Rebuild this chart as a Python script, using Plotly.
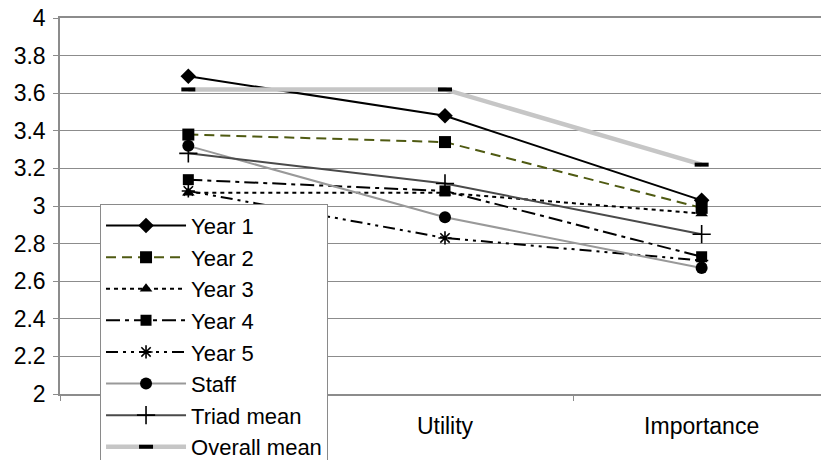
import plotly.graph_objects as go

categories = ["Interest", "Utility", "Importance"]
series_names = ["Year 1", "Year 2", "Year 3", "Year 4", "Year 5", "Staff", "Triad mean", "Overall mean"]
year1 = [3.69, 3.48, 3.03]
year2 = [3.38, 3.34, 2.99]
year3 = [3.07, 3.07, 2.96]
year4 = [3.14, 3.08, 2.73]
year5 = [3.08, 2.83, 2.71]
staff = [3.32, 2.94, 2.67]
triad = [3.28, 3.12, 2.85]
overall = [3.62, 3.62, 3.22]
values = [year1, year2, year3, year4, year5, staff, triad, overall]

styles = [
    dict(line=dict(color="black", width=2, dash="solid"),
         marker=dict(symbol="diamond", size=12, color="black")),
    dict(line=dict(color="#4f5a12", width=2, dash="10px,6px"),
         marker=dict(symbol="square", size=12, color="black")),
    dict(line=dict(color="black", width=2, dash="4px,4px"),
         marker=dict(symbol="triangle-up", size=11, color="black")),
    dict(line=dict(color="black", width=2, dash="14px,5px,4px,5px"),
         marker=dict(symbol="square", size=11, color="black")),
    dict(line=dict(color="black", width=2, dash="12px,5px,3px,5px,3px,5px"),
         marker=dict(symbol="asterisk-open", size=11, color="black", line=dict(color="black", width=1.6))),
    dict(line=dict(color="#999999", width=2, dash="solid"),
         marker=dict(symbol="circle", size=12, color="black")),
    dict(line=dict(color="#4a4a4a", width=2, dash="solid"),
         marker=dict(symbol="cross-thin-open", size=13, color="black", line=dict(color="black", width=1.6))),
    dict(line=dict(color="#c6c6c6", width=4.5, dash="solid"),
         marker=dict(symbol="line-ew-open", size=10, color="black", line=dict(color="black", width=4))),
]

fig = go.Figure()
for name, vals, st in zip(series_names, values, styles):
    fig.add_trace(go.Scatter(x=categories, y=vals, name=name, mode="lines+markers",
                             legendgroup=name, **st))

fig.update_layout(
    width=821, height=460,
    margin=dict(l=60, r=0, t=18, b=66, autoexpand=False),
    paper_bgcolor="white", plot_bgcolor="white",
    font=dict(family="Liberation Sans, Arial, sans-serif", size=22, color="black"),
    showlegend=True,
    legend=dict(
        x=0.0526, y=0.506, xanchor="left", yanchor="top",
        bgcolor="white", bordercolor="#8a8a8a", borderwidth=1,
        font=dict(size=22, color="black"),
        tracegroupgap=0, itemwidth=80, maxheight=900,
    ),
    xaxis=dict(
        type="category", range=[-0.5, 2.465],
        showgrid=False, showline=True, linecolor="#8c8c8c", linewidth=2,
        mirror=True, ticks="outside", tickson="boundaries", ticklen=5,
        tickcolor="#8c8c8c", tickfont=dict(size=23), zeroline=False,
        ticklabelstandoff=10,
    ),
    yaxis=dict(
        range=[2, 4], dtick=0.2, tick0=2,
        showgrid=True, gridcolor="#8c8c8c", gridwidth=1,
        showline=True, linecolor="#8c8c8c", linewidth=1.5,
        ticks="outside", ticklen=5, tickcolor="#8c8c8c",
        tickfont=dict(size=23), zeroline=False, ticklabelstandoff=3,
    ),
)

fig.write_html("out.html")
